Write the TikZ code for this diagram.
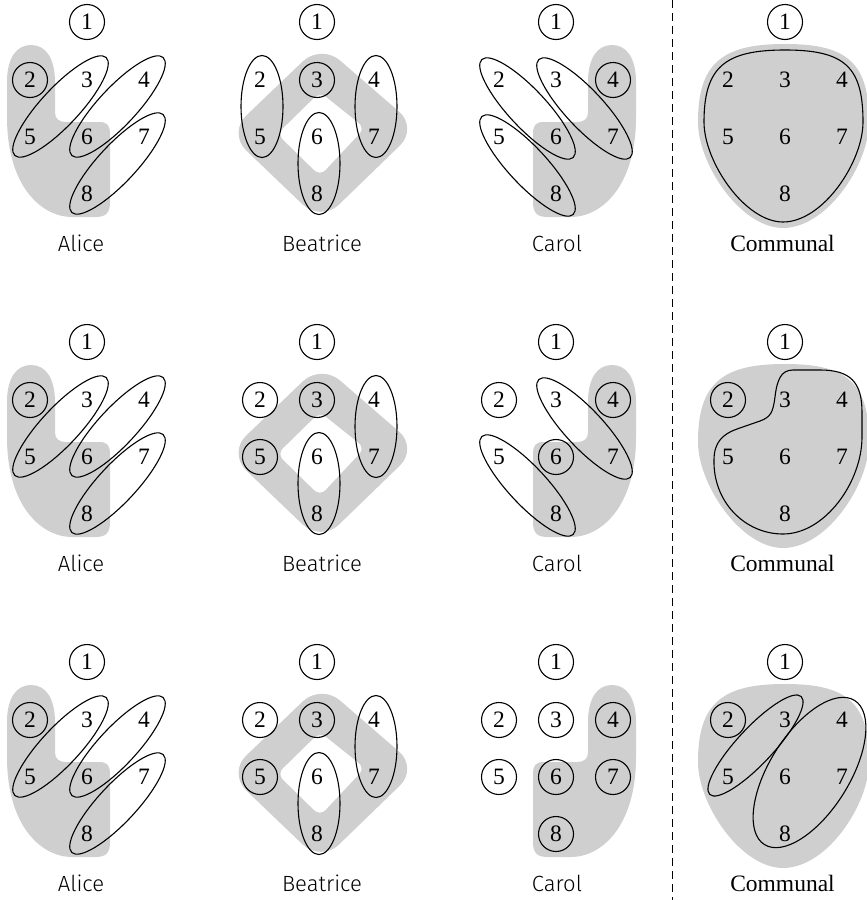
\documentclass[tikz,border=0pt]{standalone}
\usepackage{fontspec}
\setmainfont{Liberation Serif}
\newfontfamily\handfont{Fira Sans Light}
\usetikzlibrary{calc}
\definecolor{areagray}{RGB}{207,207,207}
\tikzset{
  num/.style={inner sep=0pt, font=\fontsize{23.5}{24}\selectfont},
  cnum/.style={num, draw, circle, minimum size=35pt, line width=1.1pt},
  ring/.style={draw, line width=1.1pt},
  handlabel/.style={font=\handfont\fontsize{22}{22}\selectfont, anchor=base, inner sep=0pt},
  serlabel/.style={font=\fontsize{23.5}{24}\selectfont, anchor=base, inner sep=0pt},
  divider/.style={line width=1pt, dash pattern=on 8pt off 5pt},
}
% the eight numbered places of one panel: #1 prefix, #2..#8 styles of 2..8
\newcommand\digitset[8]{%
  \node[cnum] (#1-1) at (0,0) {1};
  \node[#2] (#1-2) at (-57,58) {2};
  \node[#3] (#1-3) at (0,58) {3};
  \node[#4] (#1-4) at (57,58) {4};
  \node[#5] (#1-5) at (-57,115) {5};
  \node[#6] (#1-6) at (0,115) {6};
  \node[#7] (#1-7) at (57,115) {7};
  \node[#8] (#1-8) at (0,172) {8};
}
% ellipse round two nodes: #3 angle, #4 semi-major, #5 semi-minor, #6 offset
\newcommand\pairellipse[6]{%
  \path ($(#1)!0.5!(#2)$) ++(#6) coordinate (tmpc);
  \draw[ring, rotate around={#3:(tmpc)}] (tmpc) ellipse [x radius=#4pt, y radius=#5pt];
}
\newcommand\lshapefill{%
  \fill[areagray] (-80,95) -- (-80,60) .. controls (-80,35) and (-70,23) .. (-56,23)
    .. controls (-42,23) and (-32,35) .. (-32,60) -- (-32,90)
    .. controls (-32,97) and (-28,100) .. (-21,100) -- (12,100)
    .. controls (20,100) and (23,103) .. (23,112) -- (23,180)
    .. controls (23,192) and (18,195) .. (8,195) -- (-15,195)
    .. controls (-45,195) and (-80,165) .. (-80,95) -- cycle;
}
\newcommand\beaRing{%
  \fill[areagray, even odd rule] [rounded corners=25pt] (4,22) -- (101,106) -- (4,200) -- (-89,111) -- cycle
    [rounded corners=8pt] (3,70) -- (48,106) -- (3,154) -- (-40,112) -- cycle;
}
\newcommand\blobfill{%
  \filldraw[fill=areagray, draw=areagray, line width=12pt, line join=round]
    (-81,100) .. controls (-81,45) and (-60,28) .. (0,28)
    .. controls (60,28) and (78,45) .. (78,100)
    .. controls (78,140) and (38,200) .. (-2,200)
    .. controls (-40,200) and (-81,140) .. (-81,100) -- cycle;
}
\newcommand\blobline{%
  \draw[ring]
    (-81,100) .. controls (-81,45) and (-60,28) .. (0,28)
    .. controls (60,28) and (78,45) .. (78,100)
    .. controls (78,140) and (38,200) .. (-2,200)
    .. controls (-40,200) and (-81,140) .. (-81,100) -- cycle;
}
\newcommand\alicepanel[1]{%
  \lshapefill
  \digitset{#1}{cnum}{num}{num}{num}{num}{num}{num}
  \pairellipse{#1-3}{#1-5}{47}{67}{19}{2,-2}
  \pairellipse{#1-4}{#1-6}{47}{67}{19}{2,-2}
  \pairellipse{#1-7}{#1-8}{47}{67}{19}{2,-2}
  \node[handlabel] (#1-name) at (-6,229) {Alice};
}
\begin{document}
\begin{tikzpicture}[x=1pt, y=-1pt]
\useasboundingbox (0,0) rectangle (867,900);

% divider
\coordinate (divtop) at (672,0);
\coordinate (divbot) at (672,900);
\draw[divider] (divtop) -- (divbot);

% ---------------- row 1 ----------------
\begin{scope}[shift={(87,22)}]
  \alicepanel{a1}
\end{scope}
\begin{scope}[shift={(317,22)}]
  \beaRing
  \digitset{b1}{num}{cnum}{num}{num}{num}{num}{num}
  \pairellipse{b1-2}{b1-5}{90}{51}{21}{2,-2}
  \pairellipse{b1-4}{b1-7}{90}{51}{21}{2,-2}
  \pairellipse{b1-6}{b1-8}{90}{51}{21}{2,-2}
  \node[handlabel] (b1-name) at (5,229) {Beatrice};
\end{scope}
\begin{scope}[shift={(556,22)}, xscale=-1]
  \lshapefill
\end{scope}
\begin{scope}[shift={(556,22)}]
  \digitset{c1}{num}{num}{cnum}{num}{num}{num}{num}
  \pairellipse{c1-2}{c1-6}{-47}{67}{19}{0,0}
  \pairellipse{c1-3}{c1-7}{-47}{67}{19}{0,0}
  \pairellipse{c1-5}{c1-8}{-47}{67}{19}{0,0}
  \node[handlabel] (c1-name) at (1,229) {Carol};
\end{scope}
\begin{scope}[shift={(785,22)}]
  \blobfill
  \blobline
  \digitset{m1}{num}{num}{num}{num}{num}{num}{num}
  \node[serlabel] (m1-name) at (-2.5,229) {Communal};
\end{scope}

% ---------------- row 2 ----------------
\begin{scope}[shift={(87,342)}]
  \alicepanel{a2}
\end{scope}
\begin{scope}[shift={(317,342)}]
  \beaRing
  \digitset{b2}{cnum}{cnum}{num}{cnum}{num}{num}{num}
  \pairellipse{b2-4}{b2-7}{90}{51}{21}{2,-2}
  \pairellipse{b2-6}{b2-8}{90}{51}{21}{2,-2}
  \node[handlabel] (b2-name) at (5,229) {Beatrice};
\end{scope}
\begin{scope}[shift={(556,342)}, xscale=-1]
  \lshapefill
\end{scope}
\begin{scope}[shift={(556,342)}]
  \digitset{c2}{cnum}{num}{cnum}{num}{cnum}{num}{num}
  \pairellipse{c2-3}{c2-7}{-47}{67}{19}{0,0}
  \pairellipse{c2-5}{c2-8}{-47}{67}{19}{0,0}
  \node[handlabel] (c2-name) at (1,229) {Carol};
\end{scope}
\begin{scope}[shift={(785,342)}]
  \blobfill
  \draw[ring] (8,28) -- (35,28) .. controls (65,28) and (77,40) .. (77,70) -- (77,95)
    .. controls (77,140) and (40,192) .. (-2,192)
    .. controls (-40,192) and (-72,160) .. (-71,118)
    .. controls (-71,100) and (-62,92) .. (-48,87) -- (-25,79)
    .. controls (-14,75) and (-12,70) .. (-10,55)
    .. controls (-8,38) and (-4,28) .. (8,28) -- cycle;
  \digitset{m2}{cnum}{num}{num}{num}{num}{num}{num}
  \node[serlabel] (m2-name) at (-2.5,229) {Communal};
\end{scope}

% ---------------- row 3 ----------------
\begin{scope}[shift={(87,662)}]
  \alicepanel{a3}
\end{scope}
\begin{scope}[shift={(317,662)}]
  \beaRing
  \digitset{b3}{cnum}{cnum}{num}{cnum}{num}{num}{num}
  \pairellipse{b3-4}{b3-7}{90}{51}{21}{2,-2}
  \pairellipse{b3-6}{b3-8}{90}{51}{21}{2,-2}
  \node[handlabel] (b3-name) at (5,229) {Beatrice};
\end{scope}
\begin{scope}[shift={(556,662)}, xscale=-1]
  \lshapefill
\end{scope}
\begin{scope}[shift={(556,662)}]
  \digitset{c3}{cnum}{cnum}{cnum}{cnum}{cnum}{cnum}{cnum}
  \node[handlabel] (c3-name) at (1,229) {Carol};
\end{scope}
\begin{scope}[shift={(785,662)}]
  \blobfill
  \digitset{m3}{cnum}{num}{num}{num}{num}{num}{num}
  \pairellipse{m3-3}{m3-5}{47}{67}{18}{-1,-3}
  \pairellipse{m3-4}{m3-8}{58}{85}{40}{-4,-4.5}
  \node[serlabel] (m3-name) at (-2.5,229) {Communal};
\end{scope}
\end{tikzpicture}
\end{document}
